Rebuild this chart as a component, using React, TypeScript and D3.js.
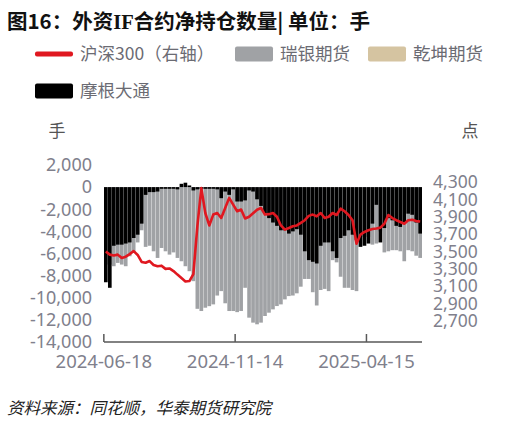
import { useEffect, useRef } from "react";
import * as d3 from "d3";

// 摩根大通 net position (hands), one bar per ~3 trading days
const jpMorgan = [
  -8600, -9100, -5300, -5200, -5200, -5100, -5000, -4600, -4300, -3300,
  -700, -450, -450, -400, -150, -150, -150, -150, -200, 300,
  400, 150, -300, -200, -150, -150, -150, -150, -200, -1000,
  -400, -700, -200, -1300, -1300, -1200, -300, -400, -1100, -1700,
  -2400, -2800, -3200, -3500, -3900, -3900, -4200, -4000, -3800, -4300,
  -5800, -6600, -6750, -6900, -5300, -5000, -5000, -5800, -6400, -4600,
  -4400, -3900, -4300, -4800, -5400, -5300, -5100, -3300, -1600, -5000,
  -3700, -2800, -3000, -3500, -3600, -3300, -2400, -2500, -3200, -4200,
];

// 瑞银期货 net position (hands)
const ubs = [
  -7000, -7000, -7150, -6850, -7000, -7150, -6250, -5950, -5000, -3900,
  -5400, -5300, -5800, -6400, -5500, -5800, -6100, -5900, -6400, -6700,
  -7150, -7600, -8500, -11000, -11200, -10900, -10760, -10600, -9800, -9400,
  -10500, -11200, -11200, -11300, -11200, -9100, -11800, -12250, -12400, -12250,
  -11650, -11350, -11050, -10750, -10600, -10150, -9850, -9800, -9600, -9000,
  -8300, -8300, -9500, -10700, -9300, -9200, -9400, -6600, -6800, -8100,
  -9100, -9100, -9300, -9400, -4500, -4500, -4500, -5200, -5100, -4000,
  -5900, -5800, -5700, -5700, -5800, -6700, -5700, -5800, -6200, -6400,
];

// 沪深300 close (right axis)
const hs300 = [
  3500, 3464, 3455, 3464, 3425, 3440, 3470, 3505, 3460, 3380,
  3370, 3390, 3345, 3330, 3337, 3300, 3305, 3275, 3234, 3195,
  3155, 3160, 3240, 3790, 4230, 3943, 3800, 3925, 3943, 3886,
  4000, 4117, 4040, 3963, 3983, 3880, 3900, 3940, 3980, 4001,
  3925, 3930, 3943, 3900, 3800, 3752, 3770, 3790, 3800, 3830,
  3860, 3910, 3925, 3905, 3943, 3886, 3900, 3943, 3920, 3994,
  3963, 3920, 3860, 3590, 3695, 3725, 3745, 3759, 3765, 3775,
  3820, 3920, 3885, 3860, 3840, 3820, 3860, 3865, 3850, 3845,
];

const xTickLabels = ["2024-06-18", "2024-11-14", "2025-04-15"];
const xTickIndex = [0, 33, 66];
const leftTicks = [2000, 0, -2000, -4000, -6000, -8000, -10000, -12000, -14000];
const rightTicks = [4300, 4100, 3900, 3700, 3500, 3300, 3100, 2900, 2700];

const legendItems = [
  { name: "沪深300（右轴）", color: "#e01820", kind: "line" },
  { name: "瑞银期货", color: "#a0a2a5", kind: "rect" },
  { name: "乾坤期货", color: "#d5c4a1", kind: "rect" },
  { name: "摩根大通", color: "#000000", kind: "rect" },
];

const CJK = "'Noto Sans CJK SC', 'Noto Sans', sans-serif";
const NUM = "'Noto Sans', 'Noto Sans CJK SC', sans-serif";
const TICK = "#80808c";

export default function App() {
  const svgRef = useRef<SVGSVGElement>(null);

  useEffect(() => {
    if (!svgRef.current) return;
    const svg = d3.select(svgRef.current);
    svg.selectAll("*").remove();

    const width = 519;
    const height = 426;
    svg.attr("width", width).attr("height", height);

    svg.append("rect").attr("width", width).attr("height", height).attr("fill", "#fff");

    // Title
    const title = svg
      .append("text")
      .attr("x", 7)
      .attr("y", 29)
      .attr("font-family", CJK)
      .attr("font-size", 20.5)
      .attr("font-weight", 700)
      .attr("fill", "#111");
    title.append("tspan").text("图16：外资");
    title.append("tspan").attr("font-family", "'Liberation Serif', serif").text("IF");
    title.append("tspan").text("合约净持仓数量| 单位：手");

    // Legend
    const legendPos = [
      { x: 35, y: 54 },
      { x: 235, y: 54 },
      { x: 368, y: 54 },
      { x: 35, y: 91 },
    ];
    legendItems.forEach((d, i) => {
      const p = legendPos[i];
      const g = svg.append("g").attr("transform", `translate(${p.x},${p.y})`);
      if (d.kind === "line") {
        g.append("rect")
          .attr("x", 0)
          .attr("y", -2.5)
          .attr("width", 38)
          .attr("height", 5)
          .attr("rx", 2)
          .attr("fill", d.color);
      } else {
        g.append("rect")
          .attr("x", 0)
          .attr("y", -7.5)
          .attr("width", 38)
          .attr("height", 15)
          .attr("rx", 2)
          .attr("fill", d.color);
      }
      g.append("text")
        .attr("x", 45)
        .attr("y", 0)
        .attr("dy", "0.35em")
        .attr("font-family", CJK)
        .attr("font-size", 17.5)
        .attr("fill", "#6b6b73")
        .text(d.name);
    });

    // Scales
    const idx = hs300.map((_, i) => String(i));
    const x = d3.scaleBand<string>().domain(idx).range([104, 422]).paddingInner(0.08);
    const yLeft = d3.scaleLinear().domain([-14000, 2000]).range([342, 165]);
    const yRight = d3.scaleLinear().domain([2700, 4300]).range([321, 182]);
    const gap = (x.step() - x.bandwidth()) / 2;

    // Bars: 瑞银 behind, 摩根大通 overlapped on top
    const bars = svg.append("g");
    bars
      .selectAll("rect.ubs")
      .data(ubs)
      .join("rect")
      .attr("class", "ubs")
      .attr("x", (_, i) => x(String(i))!)
      .attr("width", x.bandwidth())
      .attr("y", (d) => yLeft(Math.max(0, d)))
      .attr("height", (d) => Math.abs(yLeft(d) - yLeft(0)))
      .attr("fill", "#a0a2a5");
    bars
      .selectAll("rect.jpm")
      .data(jpMorgan)
      .join("rect")
      .attr("class", "jpm")
      .attr("x", (_, i) => x(String(i))!)
      .attr("width", x.bandwidth())
      .attr("y", (d) => yLeft(Math.max(0, d)))
      .attr("height", (d) => Math.abs(yLeft(d) - yLeft(0)))
      .attr("fill", "#000");

    // HS300 line
    const line = d3
      .line<number>()
      .x((_, i) => x(String(i))! + x.bandwidth() / 2)
      .y((d) => yRight(d));
    svg
      .append("path")
      .attr("d", line(hs300) as string)
      .attr("fill", "none")
      .attr("stroke", "#e01820")
      .attr("stroke-width", 2.6)
      .attr("stroke-linejoin", "round");

    // Left axis labels
    svg
      .append("g")
      .selectAll("text")
      .data(leftTicks)
      .join("text")
      .attr("x", 92)
      .attr("y", (d) => yLeft(d))
      .attr("dy", "0.35em")
      .attr("text-anchor", "end")
      .attr("font-family", NUM)
      .attr("font-size", 18)
      .attr("fill", TICK)
      .text((d) => d3.format(",")(d).replace("−", "-"));

    // Right axis labels (packed tightly, as in the source)
    svg
      .append("g")
      .selectAll("text")
      .data(rightTicks)
      .join("text")
      .attr("x", 433)
      .attr("y", (d) => yRight(d))
      .attr("dy", "0.35em")
      .attr("font-family", NUM)
      .attr("font-size", 17.5)
      .attr("fill", TICK)
      .text((d) => d3.format(",")(d));

    // Axis units
    svg
      .append("text")
      .attr("x", 57)
      .attr("y", 131)
      .attr("dy", "0.35em")
      .attr("text-anchor", "middle")
      .attr("font-family", CJK)
      .attr("font-size", 17)
      .attr("fill", "#555")
      .text("手");
    svg
      .append("text")
      .attr("x", 470)
      .attr("y", 131)
      .attr("dy", "0.35em")
      .attr("text-anchor", "middle")
      .attr("font-family", CJK)
      .attr("font-size", 17)
      .attr("fill", "#555")
      .text("点");

    // X axis
    const axisY = 342;
    svg
      .append("line")
      .attr("x1", 104)
      .attr("x2", 422)
      .attr("y1", axisY)
      .attr("y2", axisY)
      .attr("stroke", "#595959")
      .attr("stroke-width", 1.5);
    const xt = svg.append("g");
    xTickIndex.forEach((ti, k) => {
      const tx = x(String(ti))! - gap;
      xt.append("line")
        .attr("x1", tx)
        .attr("x2", tx)
        .attr("y1", axisY)
        .attr("y2", axisY - 8)
        .attr("stroke", "#595959")
        .attr("stroke-width", 1.5);
      xt.append("text")
        .attr("x", tx)
        .attr("y", 368)
        .attr("text-anchor", "middle")
        .attr("font-family", NUM)
        .attr("font-size", 18.5)
        .attr("fill", TICK)
        .text(xTickLabels[k]);
    });

    // Source
    svg
      .append("text")
      .attr("x", 7)
      .attr("y", 414)
      .attr("font-family", CJK)
      .attr("font-size", 16.5)
      .attr("font-style", "italic")
      .attr("fill", "#222")
      .text("资料来源：同花顺，华泰期货研究院");
  }, []);

  return (
    <svg
      ref={svgRef}
      style={{ position: "absolute", left: 0, top: 0, display: "block" }}
    />
  );
}
